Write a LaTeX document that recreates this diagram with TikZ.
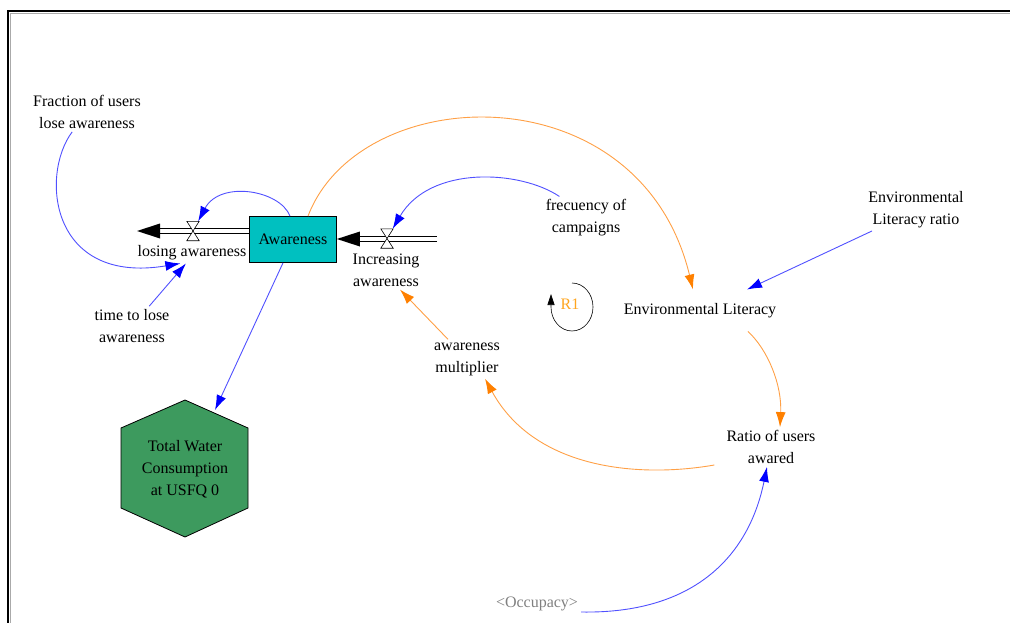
\documentclass[tikz,border=0pt]{standalone}
\usepackage{fontspec}
\setmainfont{Liberation Serif}
\usetikzlibrary{arrows.meta}

\definecolor{linkblue}{RGB}{80,80,255}
\definecolor{tipblue}{RGB}{0,0,255}
\definecolor{linkorange}{RGB}{255,160,70}
\definecolor{tiporange}{RGB}{255,128,0}
\definecolor{stockteal}{RGB}{0,192,192}
\definecolor{hexgreen}{RGB}{61,154,94}
\definecolor{looporange}{RGB}{255,165,30}
\definecolor{shadowgray}{RGB}{170,170,170}

\begin{document}
\begin{tikzpicture}[x=1pt,y=-1pt,
  lbl/.style={align=center, font=\fontsize{16}{22}\selectfont, inner sep=3pt},
  blink/.style={draw=linkblue, line width=0.9pt, -{Latex[length=15pt,width=10pt,color=tipblue]}},
  olink/.style={draw=linkorange, line width=0.9pt, -{Latex[length=15pt,width=10pt,color=tiporange]}},
  valve/.style={minimum width=12pt, minimum height=19pt, inner sep=0pt},
  valveshape/.style={draw=black, fill=white, line width=0.6pt},
  pipe/.style={draw=black, double=white, double distance=3.8pt, line width=0.8pt},
  stock/.style={lbl, draw=black, line width=0.8pt, fill=stockteal, minimum width=87pt, minimum height=46pt},
]
\useasboundingbox (0,0) rectangle (1010,623);

% window frame
\coordinate (fbl) at (8,623);
\coordinate (ftl) at (8,11);
\coordinate (ftr) at (1010,11);
\draw[shadowgray, line width=0.8pt] (10.2,623) -- (10.2,13.2) -- (1010,13.2);
\draw[black, line width=1.6pt] (fbl) -- (ftl) -- (ftr);

% stock and flows
\node[stock] (aw) at (293,239.5) {Awareness};
\coordinate (lsink) at (137,231);
\coordinate (isrc) at (437,239);
\coordinate (itip) at (aw.east |- isrc);

\draw[pipe] (aw.west |- lsink) -- ([xshift=22pt]lsink);
\fill[black] (lsink) -- ([shift={(23pt,7.5pt)}]lsink) -- ([shift={(23pt,-7.5pt)}]lsink) -- cycle;
\draw[pipe] (isrc) -- ([xshift=22pt]itip);
\fill[black] (itip) -- ([shift={(23pt,7.5pt)}]itip) -- ([shift={(23pt,-7.5pt)}]itip) -- cycle;

\node[valve] (lv) at (193,231) {};
\node[valve] (iv) at (387,238.5) {};
\draw[valveshape] (lv.north west) -- (lv.north east) -- (lv.south west) -- (lv.south east) -- cycle;
\draw[valveshape] (iv.north west) -- (iv.north east) -- (iv.south west) -- (iv.south east) -- cycle;

% labels and auxiliaries
\node[lbl] (frac) at (87,112) {Fraction of users\\lose awareness};
\node[lbl] (losel) at (192,253) {losing awareness};
\node[lbl] (incl) at (386,270) {Increasing\\awareness};
\node[lbl] (freq) at (586,218) {frecuency of\\campaigns};
\node[lbl] (tlose) at (132,326) {time to lose\\awareness};
\node[lbl] (envlit) at (700,311) {Environmental Literacy};
\node[lbl] (envratio) at (916,209.5) {Environmental\\Literacy ratio};
\node[lbl] (mult) at (467,359) {awareness\\multiplier};
\node[lbl] (ratio) at (771,447) {Ratio of users\\awared};
\node[lbl, text=gray] (occ) at (537,604) {<Occupacy>};

% output hexagon
\coordinate (hx1) at (185,400);
\coordinate (hx2) at (248,428);
\coordinate (hx3) at (248,508);
\coordinate (hx4) at (185,537);
\coordinate (hx5) at (121,508);
\coordinate (hx6) at (121,428);
\coordinate (hexin) at (215,410);
\draw[black, line width=0.8pt, fill=hexgreen] (hx1) -- (hx2) -- (hx3) -- (hx4) -- (hx5) -- (hx6) -- cycle;
\node[lbl] (total) at (185,469) {Total Water\\Consumption\\at USFQ 0};

% loop marker
\node[lbl, text=looporange] (r1) at (570,304) {R1};
\draw[black, line width=0.6pt, -{Triangle[length=11pt,width=7pt]}]
  (572,283) arc[start angle=-90, end angle=180, x radius=21, y radius=24] -- ++(0,-13);

% blue links
\draw[blink] (frac) .. controls (40,175) and (50,285) .. (losel.222);
\draw[blink] (tlose.49) -- (losel.240);
\draw[blink] ([xshift=-3pt]aw.north) .. controls (280,190) and (220,180) .. (lv);
\draw[blink] (freq.141) .. controls (520,170) and (430,165) .. (iv);
\draw[blink] ([xshift=-44pt]envratio.south) -- ([shift={(47pt,11pt)}]envlit.north);
\draw[blink] ([xshift=-10pt]aw.south) -- (hexin);
\draw[blink] ([yshift=-8pt]occ.east) .. controls (690,614) and (748,560) .. ([xshift=-4pt]ratio.south);

% orange links
\draw[olink] ([xshift=15pt]aw.north) .. controls (360,80) and (640,70) .. ([shift={(-7pt,11pt)}]envlit.north);
\draw[olink] ([shift={(48pt,-10pt)}]envlit.south) .. controls (768,350) and (782,385) .. ([xshift=9pt]ratio.north);
\draw[olink] ([shift={(-9pt,-18pt)}]ratio.west) .. controls (640,478) and (535,470) .. ([xshift=18pt]mult.south);
\draw[olink] ([xshift=-19pt]mult.north) -- ([xshift=14pt]incl.south);
\end{tikzpicture}
\end{document}
